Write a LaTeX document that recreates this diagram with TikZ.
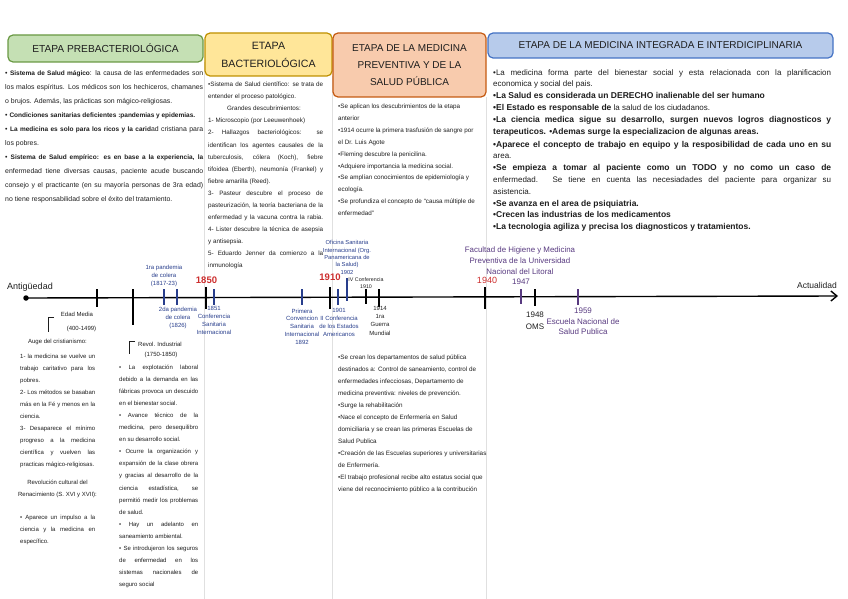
\documentclass[tikz,border=0pt]{standalone}
\usepackage{fontspec}
\setmainfont{Liberation Sans}
\usetikzlibrary{arrows.meta}
\definecolor{ink}{RGB}{30,30,30}
\definecolor{tlblue}{RGB}{40,62,140}
\definecolor{tlpurple}{RGB}{88,58,128}
\definecolor{tlred}{RGB}{204,45,45}
\definecolor{gfill}{RGB}{197,224,180}
\definecolor{gline}{RGB}{106,153,68}
\definecolor{yfill}{RGB}{255,230,153}
\definecolor{yline}{RGB}{191,144,0}
\definecolor{ofill}{RGB}{248,203,173}
\definecolor{oline}{RGB}{197,90,17}
\definecolor{bfill}{RGB}{183,203,235}
\definecolor{bline}{RGB}{68,114,196}
\newcounter{lnc}
\newcommand{\TL}[4]{\stepcounter{lnc}\node[#1] (L\arabic{lnc}) at (#2,#3) {#4};}
\newcommand{\JL}[5]{\stepcounter{lnc}\node[#1] (L\arabic{lnc}) at (#2,#3) {\makebox[#4pt][s]{#5}};}
\newcommand{\BB}[1]{{\fontsize{8.5}{9}\selectfont\bfseries #1}}
\newcommand{\BA}[1]{{\fontsize{6.5}{7}\selectfont\bfseries #1}}
\tikzset{
  txt/.style={anchor=west, inner sep=0pt, text height=.75em, text depth=.25em, text=ink},
  ta/.style={txt, font=\fontsize{6.9}{7}\selectfont},
  tb/.style={txt, font=\fontsize{6.3}{7}\selectfont},
  tc/.style={txt, font=\fontsize{6.3}{7}\selectfont},
  td/.style={txt, font=\fontsize{8}{8}\selectfont},
  te/.style={txt, font=\fontsize{6}{7}\selectfont},
  tf/.style={txt, font=\fontsize{6}{7}\selectfont},
  hdr/.style={rounded corners=5pt, line width=1.2pt, inner sep=0pt, align=center, text=ink},
  tlab/.style={inner sep=0pt, align=center},
  small/.style={tlab, font=\fontsize{6}{8}\selectfont},
  mid/.style={tlab, font=\fontsize{8}{10.5}\selectfont},
  tick/.style={line width=1.3pt},
  faint/.style={draw=black!12, line width=0.5pt}
}
\begin{document}
\begin{tikzpicture}[x=1pt,y=-1pt]
\useasboundingbox (0,0) rectangle (848,599);
% faint column separators
\draw[faint] (204,62) -- (204,599);
\draw[faint] (332,76) -- (332,599);
\draw[faint] (486.5,97) -- (486.5,599);

% headers
\node[hdr, fill=gfill, draw=gline, minimum width=195pt, minimum height=27pt,
  font=\fontsize{10.2}{17}\selectfont] (h1) at (105.5,48.5) {ETAPA PREBACTERIOLÓGICA};
\node[hdr, fill=yfill, draw=yline, minimum width=127pt, minimum height=43pt,
  font=\fontsize{10.6}{18}\selectfont] (h2) at (268.5,54.5) {ETAPA\\BACTERIOLÓGICA};
\node[hdr, fill=ofill, draw=oline, minimum width=153pt, minimum height=64pt,
  font=\fontsize{10}{17}\selectfont] (h3) at (409.5,65) {ETAPA DE LA MEDICINA\\PREVENTIVA Y DE LA\\SALUD PÚBLICA};
\node[hdr, fill=bfill, draw=bline, minimum width=345pt, minimum height=25pt,
  font=\fontsize{10}{11}\selectfont] (h4) at (660.5,45.5) {ETAPA DE LA MEDICINA INTEGRADA E INTERDICIPLINARIA};

% column 1 (prebacteriologica)
\JL{ta}{5}{73}{198}{• \BA{Sistema de Salud mágico}: la causa de las enfermedades son}
\JL{ta}{5}{87}{198}{los malos espíritus. Los médicos son los hechiceros, chamanes}
\TL{ta}{5}{101}{o brujos. Además, las prácticas son mágico-religiosas.}
\TL{ta}{5}{115}{• \BA{Condiciones sanitarias deficientes :pandemias y epidemias.}}
\JL{ta}{5}{129}{198}{• \BA{La medicina es solo para los ricos y la carid}ad cristiana para}
\TL{ta}{5}{143}{los pobres.}
\JL{ta}{5}{157}{198}{• \BA{Sistema de Salud empírico: es en base a la experiencia, la}}
\JL{ta}{5}{171}{198}{enfermedad tiene diversas causas, paciente acude buscando}
\JL{ta}{5}{185}{198}{consejo y el practicante (en su mayoría personas de 3ra edad)}
\TL{ta}{5}{199}{no tiene responsabilidad sobre el éxito del tratamiento.}

% column 2 (bacteriologica)
\JL{tb}{208}{84.5}{115}{•Sistema de Salud científico: se trata de}
\TL{tb}{208}{96.5}{entender el proceso patológico.}
\TL{tb,anchor=center}{264}{108.5}{Grandes descubrimientos:}
\TL{tb}{208}{120.5}{1- Microscopio (por Leeuwenhoek)}
\JL{tb}{208}{132.5}{115}{2- Hallazgos bacteriológicos: se}
\JL{tb}{208}{144.5}{115}{identifican los agentes causales de la}
\JL{tb}{208}{156.5}{115}{tuberculosis, cólera (Koch), fiebre}
\JL{tb}{208}{168.5}{115}{tifoidea (Eberth), neumonía (Frankel) y}
\TL{tb}{208}{180.5}{fiebre amarilla (Reed).}
\JL{tb}{208}{192.5}{115}{3- Pasteur descubre el proceso de}
\JL{tb}{208}{204.5}{115}{pasteurización, la teoría bacteriana de la}
\JL{tb}{208}{216.5}{115}{enfermedad y la vacuna contra la rabia.}
\JL{tb}{208}{228.5}{115}{4- Lister descubre la técnica de asepsia}
\TL{tb}{208}{240.5}{y antisepsia.}
\JL{tb}{208}{252.5}{115}{5- Eduardo Jenner da comienzo a la}
\TL{tb}{208}{264.5}{inmunología}

% column 3 (preventiva) top
\TL{tc}{338}{106.5}{•Se aplican los descubrimientos de la etapa}
\TL{tc}{338}{118.3}{anterior}
\TL{tc}{338}{130.1}{•1914 ocurre la primera trasfusión de sangre por}
\TL{tc}{338}{141.9}{el Dr. Luis Agote}
\TL{tc}{338}{153.7}{•Fleming descubre la penicilina.}
\TL{tc}{338}{165.5}{•Adquiere importancia la medicina social.}
\TL{tc}{338}{177.3}{•Se amplían conocimientos de epidemiología y}
\TL{tc}{338}{189.1}{ecología.}
\TL{tc}{338}{200.9}{•Se profundiza el concepto de “causa múltiple de}
\TL{tc}{338}{212.7}{enfermedad”}

% column 3 bottom
\TL{tc}{338}{357}{•Se crean los departamentos de salud pública}
\TL{tc}{338}{369}{destinados a: Control de saneamiento, control de}
\TL{tc}{338}{381}{enfermedades infecciosas, Departamento de}
\TL{tc}{338}{393}{medicina preventiva: niveles de prevención.}
\TL{tc}{338}{405}{•Surge la rehabilitación}
\TL{tc}{338}{417}{•Nace el concepto de Enfermería en Salud}
\TL{tc}{338}{429}{domiciliaria y se crean las primeras Escuelas de}
\TL{tc}{338}{441}{Salud Publica}
\TL{tc}{338}{453}{•Creación de las Escuelas superiores y universitarias}
\TL{tc}{338}{465}{de Enfermería.}
\TL{tc}{338}{477}{•El trabajo profesional recibe alto estatus social que}
\TL{tc}{338}{489}{viene del reconocimiento público a la contribución}

% column 4 (integrada)
\JL{td}{493}{73.5}{338}{•La medicina forma parte del bienestar social y esta relacionada con la planificacion}
\TL{td}{493}{84}{economica y social del pais.}
\TL{td}{493}{96.5}{\BB{•La Salud es considerada un DERECHO inalienable del ser humano}}
\TL{td}{493}{108.5}{\BB{•El Estado es responsable de} la salud de los ciudadanos.}
\JL{td}{493}{120.5}{338}{\BB{•La ciencia medica sigue su desarrollo, surgen nuevos logros diagnosticos y}}
\TL{td}{493}{132.5}{\BB{terapeuticos. •Ademas surge la especializacion de algunas areas.}}
\JL{td}{493}{144.5}{338}{\BB{•Aparece el concepto de trabajo en equipo y la resposibilidad de cada uno en su}}
\TL{td}{493}{156}{area.}
\JL{td}{493}{168}{338}{\BB{•Se empieza a tomar al paciente como un TODO y no como un caso de}}
\JL{td}{493}{180}{338}{enfermedad. Se tiene en cuenta las necesiadades del paciente para organizar su}
\TL{td}{493}{191.5}{asistencia.}
\TL{td}{493}{203.5}{\BB{•Se avanza en el area de psiquiatria.}}
\TL{td}{493}{215}{\BB{•Crecen las industrias de los medicamentos}}
\TL{td}{493}{227}{\BB{•La tecnologia agiliza y precisa los diagnosticos y tratamientos.}}

% timeline
\node[circle, fill=black, inner sep=0pt, minimum size=5.5pt] (t0) at (26,298) {};
\coordinate (tend) at (838,296);
\draw[line width=1.4pt, -{Straight Barb[length=6pt,width=10pt]}] (t0.center) -- (tend);
\foreach \x/\a/\b/\c in {97/289/307/black, 133/289/325/black, 164/289/305/tlblue,
  177/289/305/tlblue, 206/287/309/black, 214/289/305/tlblue, 302/289/305/tlblue,
  330/287/309/black, 338/289/305/tlblue, 347/278/301/tlblue, 366/289/304/black,
  379/289/307/black, 485/287/309/black, 521/289/304/tlpurple, 535/289/306/black,
  578/289/305/tlpurple}
  \draw[tick, draw=\c] (\x,\a) -- (\x,\b);

\node[tlab, font=\fontsize{9}{10}\selectfont, text=ink] (ant) at (30,287) {Antigüedad};
\node[tlab, font=\fontsize{8.5}{10}\selectfont, text=ink] (act) at (817,285) {Actualidad};

\node[small, text=tlblue] (p1) at (164,276) {1ra pandemia\\de colera\\(1817-23)};
\node[small, text=tlblue] (p2) at (178,318) {2da pandemia\\de colera\\(1826)};
\node[tlab, font=\fontsize{9.5}{10}\selectfont\bfseries, text=tlred] (y1850) at (206.5,280.5) {1850};
\node[small, text=tlblue] (c1851) at (214,320) {1851\\Conferencia\\Sanitaria\\Internacional};
\node[small, font=\fontsize{6}{7.8}\selectfont, text=tlblue] (c1892) at (302,326.5) {Primera\\Convencion\\Sanitaria\\Internacional\\1892};
\node[tlab, font=\fontsize{9.5}{10}\selectfont\bfseries, text=tlred] (y1910) at (330,277) {1910};
\node[small, font=\fontsize{5.8}{7.3}\selectfont, text=tlblue] (o1902) at (347,257.5) {Oficina Sanitaria\\Internacional (Org.\\Panamericana de\\la Salud)\\1902};
\node[small, font=\fontsize{5.3}{7}\selectfont, text=ink] (c1910) at (366,283.5) {IV Conferencia\\1910};
\node[small, text=tlblue] (c1901) at (339,322) {1901\\II Conferencia\\de los Estados\\Americanos};
\node[small, font=\fontsize{6}{8.3}\selectfont, text=ink] (g1914) at (380,320.5) {1914\\1ra\\Guerra\\Mundial};
\node[tlab, font=\fontsize{9}{10}\selectfont, text=tlred] (y1940) at (487,280.5) {1940};
\node[mid, font=\fontsize{7.9}{11}\selectfont, text=tlpurple] (fac) at (520,261) {Facultad de Higiene y Medicina\\Preventiva de la Universidad\\Nacional del Litoral};
\node[mid, text=tlpurple] (y1947) at (521,282) {1947};
\node[mid, font=\fontsize{8}{12}\selectfont, text=ink] (oms) at (535,321) {1948\\OMS};
\node[mid, text=tlpurple] (e1959) at (583,321.5) {1959\\Escuela Nacional de\\Salud Publica};

% Edad Media
\node[tlab, font=\fontsize{6}{8}\selectfont, text=ink] (em) at (77,314) {Edad Media};
\node[tlab, font=\fontsize{6}{8}\selectfont, text=ink] (emd) at (81.5,329) {(400-1499)};
\draw[line width=0.6pt, ink] (54,317) -- (48,317) -- (48,332);
% Revol. Industrial
\node[tlab, font=\fontsize{6}{8}\selectfont, text=ink] (ri) at (160,344) {Revol. Industrial};
\node[tlab, font=\fontsize{6}{8}\selectfont, text=ink] (rid) at (161,355) {(1750-1850)};
\draw[line width=0.6pt, ink] (135,341) -- (129,341) -- (129,354);

% left bottom column
\TL{te,anchor=center}{57.5}{341}{Auge del cristianismo:}
\JL{te}{20}{356}{75}{1- la medicina se vuelve un}
\JL{te}{20}{368}{75}{trabajo caritativo para los}
\TL{te}{20}{380}{pobres.}
\JL{te}{20}{392}{75}{2- Los métodos se basaban}
\JL{te}{20}{404}{75}{más en la Fé y menos en la}
\TL{te}{20}{416}{ciencia.}
\JL{te}{20}{428}{75}{3- Desaparece el mínimo}
\JL{te}{20}{440}{75}{progreso a la medicina}
\JL{te}{20}{452}{75}{científica y vuelven las}
\TL{te}{20}{464}{practicas mágico-religiosas.}
\TL{te,anchor=center}{57.5}{482}{Revolución cultural del}
\TL{te,anchor=center}{57.5}{493.5}{Renacimiento (S. XVI y XVII):}
\JL{te}{20}{517}{75}{• Aparece un impulso a la}
\JL{te}{20}{529}{75}{ciencia y la medicina en}
\TL{te}{20}{541}{específico.}

% revol column
\JL{tf}{119}{366.5}{79}{• La explotación laboral}
\JL{tf}{119}{378.6}{79}{debido a la demanda en las}
\JL{tf}{119}{390.7}{79}{fábricas provoca un descuido}
\TL{tf}{119}{402.8}{en el bienestar social.}
\JL{tf}{119}{414.9}{79}{• Avance técnico de la}
\JL{tf}{119}{427}{79}{medicina, pero desequilibro}
\TL{tf}{119}{439.1}{en su desarrollo social.}
\JL{tf}{119}{451.2}{79}{• Ocurre la organización y}
\JL{tf}{119}{463.3}{79}{expansión de la clase obrera}
\JL{tf}{119}{475.4}{79}{y gracias al desarrollo de la}
\JL{tf}{119}{487.5}{79}{ciencia estadística, se}
\JL{tf}{119}{499.6}{79}{permitió medir los problemas}
\TL{tf}{119}{511.7}{de salud.}
\JL{tf}{119}{523.8}{79}{• Hay un adelanto en}
\TL{tf}{119}{535.9}{saneamiento ambiental.}
\JL{tf}{119}{548}{79}{• Se introdujeron los seguros}
\JL{tf}{119}{560.1}{79}{de enfermedad en los}
\JL{tf}{119}{572.2}{79}{sistemas nacionales de}
\TL{tf}{119}{584.3}{seguro social}
\end{tikzpicture}
\end{document}
